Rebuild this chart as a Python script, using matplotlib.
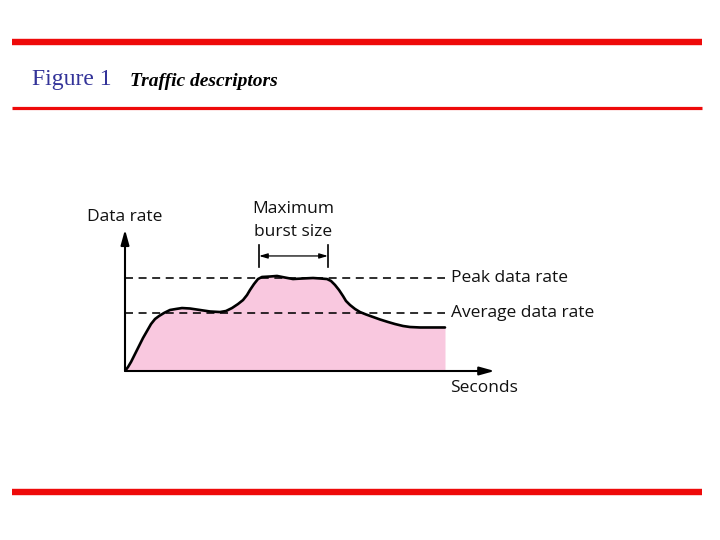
import matplotlib
matplotlib.use("Agg")
import matplotlib.pyplot as plt

# ---- data ----
time = [0, 0.94, 1.88, 3.13, 4.38, 5.63, 6.88, 8.13, 9.38, 10.63, 12.19, 14.06, 15.94, 17.81,
        20.31, 23.44, 26.56, 29.69, 31.56, 33.44, 35.31, 36.88, 38.13, 39.06, 40.31, 41.56,
        42.81, 45.31, 47.5, 50.0, 52.5, 55.63, 58.75, 60.94, 63.13, 64.38, 65.63, 66.88,
        68.13, 69.06, 70.31, 71.88, 73.44, 75.31, 77.5, 79.69, 82.19, 84.38, 86.88, 89.06,
        92.19, 95.94, 100]
rate = [0, 4.3, 9.7, 18.3, 26.9, 35.5, 43.0, 50.5, 55.9, 59.1, 62.4, 65.6, 66.7, 67.7,
        67.2, 65.6, 64.0, 63.4, 64.5, 67.7, 72.0, 76.3, 81.7, 87.1, 93.5, 98.9,
        101.1, 101.6, 102.2, 100.5, 98.9, 99.5, 100.0, 99.5, 98.9, 96.8, 92.5, 87.1,
        80.6, 75.3, 71.0, 66.7, 63.4, 60.8, 58.1, 55.4, 52.7, 50.5, 48.4, 47.3,
        46.8, 46.8, 46.8]
peak_rate = 100.0
average_rate = 62.4
burst_start, burst_end = 41.9, 63.4

fig = plt.figure(figsize=(7.2, 5.4), dpi=100)

# decoration axes in pixel coordinates
deco = fig.add_axes([0, 0, 1, 1])
deco.set_xlim(0, 720)
deco.set_ylim(540, 0)
deco.axis("off")
red = "#EE0A0A"
deco.plot([12, 702], [42, 42], color=red, lw=4.6, solid_capstyle="butt")
deco.plot([12, 702], [107.5, 107.5], color=red, lw=2.3, solid_capstyle="butt")
deco.plot([12, 702], [492, 492], color=red, lw=4.6, solid_capstyle="butt")
deco.text(32, 80, "Figure 1", color="#333399", fontsize=17, family="Liberation Serif",
          va="center", ha="left")
deco.text(130, 81, "Traffic descriptors", color="black", fontsize=14, family="Liberation Serif",
          fontweight="bold", fontstyle="italic", va="center", ha="left")

# data axes
ax = fig.add_axes([125 / 720, (540 - 371) / 540, 117 * 3.2 / 720, 180 * 0.93 / 540])
ax.set_xlim(0, 117)
ax.set_ylim(0, 180)
ax.axis("off")

ax.fill_between(time, 0, rate, color="#F9C8DF", lw=0, zorder=1)
ax.plot(time, rate, color="black", lw=1.9, solid_joinstyle="round", solid_capstyle="round", zorder=3)

dash = (0, (5, 3.5))
ax.plot([0, 100], [peak_rate, peak_rate], color="black", lw=1.15, linestyle=dash, zorder=2)
ax.plot([0, 100], [average_rate, average_rate], color="black", lw=1.15, linestyle=dash, zorder=2)

# axes arrows
ax.annotate("", xy=(0, 152), xytext=(0, 0),
            arrowprops=dict(arrowstyle="-|>,head_length=0.9,head_width=0.25", color="black", lw=1.5,
                            shrinkA=0, shrinkB=0), annotation_clip=False)
ax.annotate("", xy=(115.5, 0), xytext=(0, 0),
            arrowprops=dict(arrowstyle="-|>,head_length=0.9,head_width=0.25", color="black", lw=1.5,
                            shrinkA=0, shrinkB=0), annotation_clip=False)

# burst indicator
for bx in (burst_start, burst_end):
    ax.plot([bx, bx], [111.8, 135.5], color="black", lw=1.2, clip_on=False)
ax.annotate("", xy=(burst_start, 123.7), xytext=(burst_end, 123.7),
            arrowprops=dict(arrowstyle="<|-|>,head_length=0.5,head_width=0.15", color="black", lw=0.9,
                            shrinkA=0, shrinkB=0), annotation_clip=False)

tf = dict(family="Open Sans", fontsize=12.5, color="#111111", clip_on=False)
ax.text(0, 165.6, "Data rate", ha="center", va="center", **tf)
ax.text(52.5, 174, "Maximum", ha="center", va="center", **tf)
ax.text(52.5, 149.5, "burst size", ha="center", va="center", **tf)
ax.text(101.9, peak_rate, "Peak data rate", ha="left", va="center", **tf)
ax.text(101.9, average_rate, "Average data rate", ha="left", va="center", **tf)
ax.text(101.6, -18.3, "Seconds", ha="left", va="center", **tf)

fig.savefig("out.png", dpi=100)
